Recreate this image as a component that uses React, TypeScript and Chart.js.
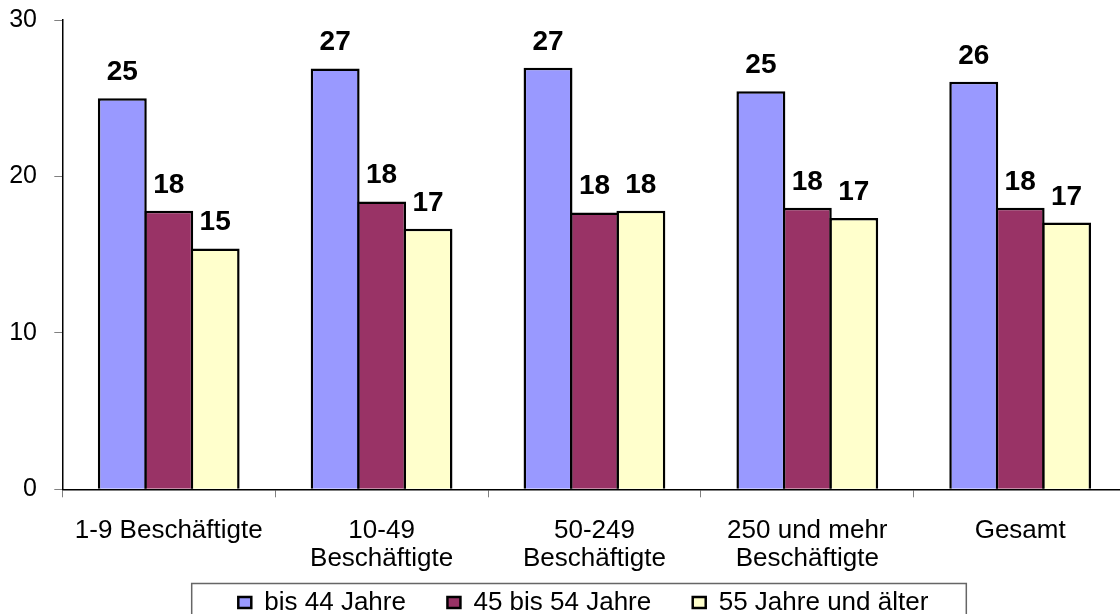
import React, { useEffect, useRef } from 'react';
import { Chart, registerables } from 'chart.js';

Chart.register(...registerables);

// ---- data ----
const categories: (string | string[])[] = [
  '1-9 Beschäftigte',
  ['10-49', 'Beschäftigte'],
  ['50-249', 'Beschäftigte'],
  ['250 und mehr', 'Beschäftigte'],
  'Gesamt',
];
const seriesNames = ['bis 44 Jahre', '45 bis 54 Jahre', '55 Jahre und älter'];
const bis44 = [25.0, 26.9, 26.95, 25.45, 26.05];
const von45bis54 = [17.8, 18.4, 17.7, 18.0, 18.0];
const ab55 = [15.4, 16.65, 17.8, 17.35, 17.05];
const yMin = 0;
const yMax = 30;
const yStep = 10;

const seriesColors = ['#9999FF', '#993366', '#FFFFCC'];
const FONT = '"Liberation Sans", Arial, Helvetica, sans-serif';
const LEGEND_SHIFT_X = 20;
const LEGEND_SHIFT_Y = 27.5;

const dataLabels = {
  id: 'dataLabels',
  afterDatasetsDraw(chart: any) {
    const ctx = chart.ctx;
    ctx.save();
    ctx.font = `bold 28px ${FONT}`;
    ctx.fillStyle = '#000';
    ctx.textAlign = 'center';
    ctx.textBaseline = 'alphabetic';
    chart.data.datasets.forEach((ds: any, di: number) => {
      const meta = chart.getDatasetMeta(di);
      meta.data.forEach((bar: any, i: number) => {
        const v = ds.data[i];
        ctx.fillText(String(Math.round(v)), bar.x, bar.y - 18);
      });
    });
    ctx.restore();
  },
};

const legendFrame = {
  id: 'legendFrame',
  afterLayout(chart: any) {
    const lg = chart.legend;
    if (!lg) return;
    lg.left += LEGEND_SHIFT_X;
    lg.right += LEGEND_SHIFT_X;
    lg.top -= LEGEND_SHIFT_Y;
    lg.bottom -= LEGEND_SHIFT_Y;
  },
  afterDraw(chart: any) {
    const lg = chart.legend;
    if (!lg || !lg.legendHitBoxes || !lg.legendHitBoxes.length) return;
    const hb = lg.legendHitBoxes;
    const first = hb[0];
    const last = hb[hb.length - 1];
    const cy = first.top + first.height / 2;
    const ctx = chart.ctx;
    ctx.save();
    ctx.strokeStyle = '#666666';
    ctx.lineWidth = 1.5;
    const left = first.left - 46.6;
    const right = last.left + last.width + 38;
    ctx.strokeRect(left, cy - 19, right - left, 38);
    ctx.restore();
  },
};

export default function App() {
  const ref = useRef<HTMLCanvasElement | null>(null);

  useEffect(() => {
    if (!ref.current) return;
    const series = [bis44, von45bis54, ab55];
    const chart = new Chart(ref.current, {
      type: 'bar',
      data: {
        labels: categories as any,
        datasets: series.map((d, i) => ({
          label: seriesNames[i],
          data: d,
          backgroundColor: seriesColors[i],
          borderColor: '#000000',
          borderWidth: 2.5,
          categoryPercentage: 0.6543,
          barPercentage: 1.0539,
        })),
      },
      options: {
        responsive: false,
        animation: false,
        devicePixelRatio: 1,
        layout: { padding: { left: 0, right: 33.4, top: 20, bottom: 0 } },
        plugins: {
          title: { display: false },
          tooltip: { enabled: false },
          legend: {
            display: true,
            position: 'bottom',
            labels: {
              font: { family: FONT, size: 26 },
              color: '#000',
              boxWidth: 13,
              boxHeight: 11,
              padding: 41.5,
            },
          },
        },
        scales: {
          x: {
            offset: true,
            grid: {
              display: true,
              drawOnChartArea: false,
              drawTicks: true,
              tickLength: 8,
              offset: true,
              color: '#808080',
              lineWidth: 1,
            },
            border: { display: true, color: '#000', width: 1.5 },
            ticks: {
              autoSkip: false,
              maxRotation: 0,
              minRotation: 0,
              padding: 19,
              color: '#000',
              font: { family: FONT, size: 26, lineHeight: 1.08 },
            },
            afterFit: (scale: any) => {
              scale.height = 86.2;
            },
          },
          y: {
            min: yMin,
            max: yMax,
            grid: {
              display: true,
              drawOnChartArea: false,
              drawTicks: true,
              tickLength: 8,
              color: '#808080',
              lineWidth: 1,
            },
            border: { display: true, color: '#000', width: 1.5 },
            ticks: {
              stepSize: yStep,
              padding: 17.3,
              color: '#000',
              font: { family: FONT, size: 25 },
            },
            afterFit: (scale: any) => {
              scale.width = 62.3;
              scale.paddingTop = 0;
              scale.paddingBottom = 0;
            },
          },
        },
      },
      plugins: [dataLabels, legendFrame],
    });
    return () => chart.destroy();
  }, []);

  return (
    <div
      style={{
        position: 'fixed',
        left: 0,
        top: 0,
        width: 1120,
        height: 614,
        overflow: 'hidden',
        background: '#fff',
      }}
    >
      <canvas ref={ref} width={1160} height={653} style={{ display: 'block' }} />
    </div>
  );
}
